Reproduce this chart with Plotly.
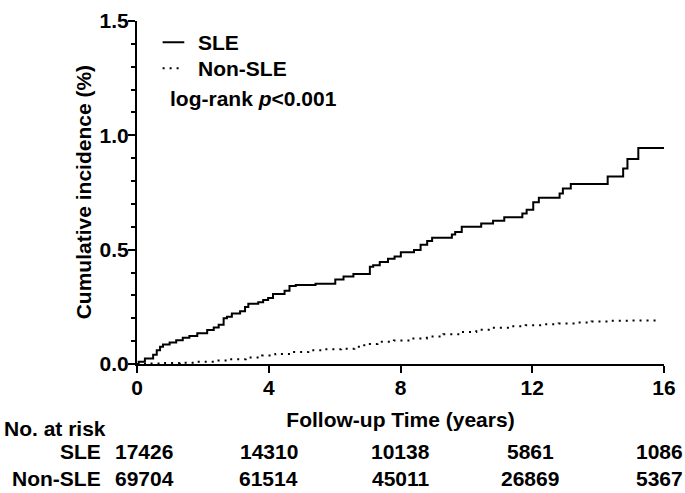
import plotly.graph_objects as go

# ---------------- data ----------------
sle_time = [0, 0.05, 0.24, 0.49, 0.6, 0.7, 0.79, 0.99, 1.19, 1.39, 1.59, 1.83, 2.13, 2.33,
            2.48, 2.63, 2.73, 2.88, 3.13, 3.28, 3.38, 3.68, 3.83, 3.98, 4.13, 4.48, 4.63,
            4.82, 5.42, 6.02, 6.27, 6.57, 7.07, 7.17, 7.37, 7.62, 7.82, 8.01, 8.41, 8.61,
            8.81, 8.96, 9.56, 9.66, 9.86, 10.45, 10.81, 11.15, 11.7, 11.83, 12.03, 12.2,
            12.83, 12.93, 13.17, 14.29, 14.76, 14.89, 15.22, 16.0]
sle_cum = [0, 0.01, 0.024, 0.04, 0.06, 0.075, 0.085, 0.094, 0.104, 0.115, 0.1225, 0.134,
           0.149, 0.16, 0.172, 0.2, 0.207, 0.221, 0.231, 0.249, 0.263, 0.27, 0.28, 0.289,
           0.306, 0.32, 0.341, 0.345, 0.351, 0.369, 0.383, 0.394, 0.425, 0.432, 0.446,
           0.46, 0.47, 0.489, 0.499, 0.521, 0.538, 0.552, 0.566, 0.577, 0.6, 0.614, 0.627,
           0.642, 0.658, 0.675, 0.707, 0.727, 0.746, 0.768, 0.787, 0.82, 0.855, 0.897,
           0.945, 0.945]

nonsle_time = [0, 0.3, 0.8, 1.3, 1.8, 2.3, 2.8, 3.3, 3.8, 4.2, 4.7, 5.2, 5.7, 6.2, 6.6,
               6.9, 7.3, 7.8, 8.3, 8.8, 9.3, 9.8, 10.3, 10.8, 11.3, 11.8, 12.3, 12.8,
               13.3, 13.8, 14.3, 15.0, 15.8]
nonsle_cum = [0, 0.002, 0.004, 0.006, 0.01, 0.015, 0.021, 0.028, 0.037, 0.044, 0.052,
              0.06, 0.064, 0.067, 0.075, 0.088, 0.097, 0.103, 0.112, 0.12, 0.13, 0.14,
              0.15, 0.158, 0.165, 0.17, 0.174, 0.177, 0.181, 0.186, 0.189, 0.19, 0.19]

risk_times = [0, 4, 8, 12, 16]
risk_sle = [17426, 14310, 10138, 5861, 1086]
risk_nonsle = [69704, 61514, 45011, 26869, 5367]

x_ticks = [0, 4, 8, 12, 16]
y_ticks = [0.0, 0.5, 1.0, 1.5]
y_ticklabels = ["0.0", "0.5", "1.0", "1.5"]

# ---------------- styling / layout helpers ----------------
W, H = 685, 493
ML, MR, MT, MB = 137, 13, 9, 129
PW, PH = W - ML - MR, H - MT - MB


def px_x(px):
    return (px - ML) / PW


def px_y(py):
    return (H - MB - py) / PH


FONT = dict(family="Liberation Sans, Arial, sans-serif", size=21, color="black", weight="bold")
risk_xshift = [7, 0, 0, -2, -5]

fig = go.Figure()
fig.add_trace(go.Scatter(x=nonsle_time, y=nonsle_cum, mode="lines", name="Non-SLE",
                         line=dict(color="black", width=2, dash="2px,5px", shape="hv")))
fig.add_trace(go.Scatter(x=sle_time, y=sle_cum, mode="lines", name="SLE",
                         line=dict(color="black", width=2, shape="hv")))

annotations = []
# axis title (y)
annotations.append(dict(text="Cumulative incidence (%)", xref="paper", yref="paper",
                        x=px_x(83), y=0.5, textangle=-90, xanchor="center",
                        yanchor="middle", showarrow=False, font=FONT))
# legend text
annotations.append(dict(text="SLE", xref="paper", yref="paper", x=px_x(197), y=px_y(31),
                        xanchor="left", yanchor="middle", showarrow=False, font=FONT))
annotations.append(dict(text="Non-SLE", xref="paper", yref="paper", x=px_x(197), y=px_y(58),
                        xanchor="left", yanchor="middle", showarrow=False, font=FONT))
annotations.append(dict(text="log-rank <i>p</i>&lt;0.001", xref="paper", yref="paper",
                        x=px_x(168), y=px_y(89), xanchor="left", yanchor="middle",
                        showarrow=False, font=FONT))
# risk table
annotations.append(dict(text="No. at risk", xref="paper", yref="paper", x=px_x(0), y=px_y(431),
                        xanchor="left", yanchor="middle", showarrow=False, font=FONT))
annotations.append(dict(text="SLE", xref="paper", yref="paper", x=px_x(102), y=px_y(455),
                        xanchor="right", yanchor="middle", showarrow=False, font=FONT))
annotations.append(dict(text="Non-SLE", xref="paper", yref="paper", x=px_x(102), y=px_y(482),
                        xanchor="right", yanchor="middle", showarrow=False, font=FONT))
for t, a, b, sh in zip(risk_times, risk_sle, risk_nonsle, risk_xshift):
    annotations.append(dict(text=str(a), xref="x", yref="paper", x=t, y=px_y(455),
                            xanchor="center", yanchor="middle", xshift=sh,
                            showarrow=False, font=FONT))
    annotations.append(dict(text=str(b), xref="x", yref="paper", x=t, y=px_y(482),
                            xanchor="center", yanchor="middle", xshift=sh,
                            showarrow=False, font=FONT))

shapes = [
    dict(type="line", xref="paper", yref="paper", x0=px_x(163), x1=px_x(185),
         y0=px_y(31), y1=px_y(31), line=dict(color="black", width=2)),
    dict(type="line", xref="paper", yref="paper", x0=px_x(163), x1=px_x(182),
         y0=px_y(58), y1=px_y(58), line=dict(color="black", width=2, dash="2px,5px")),
]

fig.update_layout(
    width=W, height=H,
    margin=dict(l=ML, r=MR, t=MT, b=MB, pad=0),
    paper_bgcolor="white", plot_bgcolor="white",
    font=FONT,
    showlegend=False,
    annotations=annotations,
    shapes=shapes,
    xaxis=dict(range=[0, 16], tickvals=x_ticks, ticks="outside", ticklen=7, tickwidth=2,
               tickcolor="black", showline=True, linewidth=2, linecolor="black",
               showgrid=False, zeroline=False, tickfont=FONT, ticklabelstandoff=-3,
               ticklabeloverflow="allow",
               title=dict(text="Follow-up Time (years)", font=FONT, standoff=14)),
    yaxis=dict(range=[0, 1.500001], tickvals=y_ticks, ticktext=y_ticklabels, ticks="outside",
               ticklen=7, tickwidth=2, tickcolor="black", showline=True, linewidth=2,
               linecolor="black", showgrid=False, zeroline=False, tickfont=FONT,
               ticklabelstandoff=-5, ticklabeloverflow="allow",
               minor=dict(dtick=0.1, tick0=0, ticks="outside", ticklen=4, tickwidth=2,
                          tickcolor="black", showgrid=False)),
)

fig.write_html("out.html", config={"displayModeBar": False},
               post_script="document.body.style.margin='0';")
